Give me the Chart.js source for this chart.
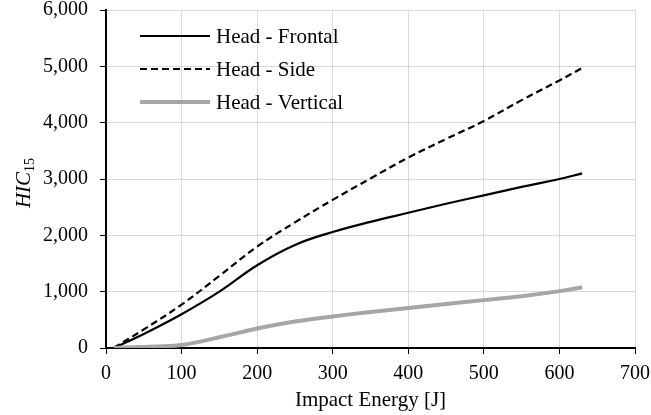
<!DOCTYPE html>
<html>
<head>
<meta charset="utf-8">
<script src="https://cdn.jsdelivr.net/npm/chart.js@4/dist/chart.umd.min.js"></script>
<style>
  html, body { margin:0; padding:0; background:#fff; }
  #wrap { width:651px; height:415px; }
  .warm { font-family:"Liberation Serif"; position:absolute; left:-999px; top:-999px; }
</style>
</head>
<body>
<span class="warm">Head 0123 <i>HIC</i></span>
<div id="wrap"><canvas id="hicChart" width="651" height="415"></canvas></div>
<script>
// --- DATA ---
const energy   = [10, 50, 100, 150, 200, 250, 300, 350, 400, 450, 500, 550, 600, 630];
const frontal  = [0, 250, 600, 1000, 1470, 1830, 2060, 2240, 2400, 2560, 2710, 2860, 3000, 3100];
const side     = [0, 330, 770, 1280, 1800, 2230, 2630, 3010, 3380, 3710, 4030, 4400, 4750, 4970];
const vertical = [0, 20, 55, 190, 345, 470, 560, 640, 710, 780, 850, 920, 1010, 1080];
const labels   = ["Head - Frontal", "Head - Side", "Head - Vertical"];
const xTicks   = [0, 100, 200, 300, 400, 500, 600, 700];
const yTicks   = [0, 1000, 2000, 3000, 4000, 5000, 6000];

const FONT = '"Liberation Serif", "Times New Roman", serif';

function pts(ys){ return energy.map((x,i)=>({x, y:ys[i]})); }

const styles = [
  {color:'#000000', width:2.2, dash:[]},
  {color:'#000000', width:2.2, dash:[7,4]},
  {color:'#a6a6a6', width:4,   dash:[]}
];

// legend + axis titles drawn by hand (legend sits inside the plot)
const extras = {
  id:'extras',
  afterDraw(chart){
    const ctx = chart.ctx;
    ctx.save();
    const rows = [36, 69, 102];
    labels.forEach((lab,i)=>{
      const s = styles[i];
      ctx.beginPath();
      ctx.strokeStyle = s.color;
      ctx.lineWidth = s.width;
      ctx.setLineDash(s.dash);
      ctx.moveTo(140, rows[i]);
      ctx.lineTo(210, rows[i]);
      ctx.stroke();
      ctx.setLineDash([]);
      ctx.fillStyle = '#000';
      ctx.font = "21px " + FONT;
      ctx.textBaseline = 'middle';
      ctx.textAlign = 'left';
      ctx.fillText(lab, 216, rows[i] + 1);
    });
    // y title: HIC (italic) with subscript 15
    ctx.translate(30, 183);
    ctx.rotate(-Math.PI/2);
    ctx.font = "italic 21px " + FONT;
    const w1 = ctx.measureText('HIC').width;
    ctx.font = "14px " + FONT;
    const w2 = ctx.measureText('15').width;
    const start = -(w1 + w2)/2;
    ctx.textAlign = 'left';
    ctx.textBaseline = 'alphabetic';
    ctx.font = "italic 21px " + FONT;
    ctx.fillText('HIC', start, 0);
    ctx.font = "14px " + FONT;
    ctx.fillText('15', start + w1, 4);
    ctx.restore();
    // x title
    ctx.save();
    ctx.font = "21px " + FONT;
    ctx.fillStyle = '#000';
    ctx.textAlign = 'center';
    ctx.textBaseline = 'middle';
    const a = chart.chartArea;
    ctx.fillText('Impact Energy [J]', (a.left + a.right)/2, 400);
    ctx.restore();
  }
};

function draw(){
  const datasets = [frontal, side, vertical].map((ys,i)=>({
    label: labels[i],
    data: pts(ys),
    borderColor: styles[i].color,
    borderWidth: styles[i].width,
    borderDash: styles[i].dash,
    pointRadius: 0,
    fill: false,
    tension: 0.4,
    order: 2 - i
  }));

  new Chart(document.getElementById('hicChart'), {
    type: 'line',
    data: { datasets },
    options: {
      responsive: false,
      animation: false,
      layout: { padding: { top: 10, right: 16, left: 0, bottom: 0 } },
      plugins: { legend: { display: false }, tooltip: { enabled: false } },
      scales: {
        x: {
          type: 'linear',
          min: 0, max: 700,
          afterBuildTicks(s){ s.ticks = xTicks.map(v=>({value:v})); },
          afterFit(s){ s.height = 67; s.paddingLeft = 0; s.paddingRight = 0; },
          grid: { color:'#d9d9d9', lineWidth:1, tickColor:'#000', tickLength:6, drawTicks:true },
          border: { color:'#000', width:2 },
          ticks: { color:'#000', padding:8, maxRotation:0, font:{ family:FONT, size:20 } }
        },
        y: {
          type: 'linear',
          min: 0, max: 6000,
          afterBuildTicks(s){ s.ticks = yTicks.map(v=>({value:v})); },
          afterFit(s){ s.width = 106; s.paddingTop = 0; s.paddingBottom = 0; },
          grid: { color:'#d9d9d9', lineWidth:1, tickColor:'#000', tickLength:6, drawTicks:true },
          border: { color:'#000', width:2 },
          ticks: {
            color:'#000', padding:12, font:{ family:FONT, size:20 },
            callback: v => v.toLocaleString('en-US')
          }
        }
      }
    },
    plugins: [extras]
  });
}

Promise.all([
  document.fonts.load('21px "Liberation Serif"'),
  document.fonts.load('italic 21px "Liberation Serif"')
]).then(draw, draw);
</script>
</body>
</html>
